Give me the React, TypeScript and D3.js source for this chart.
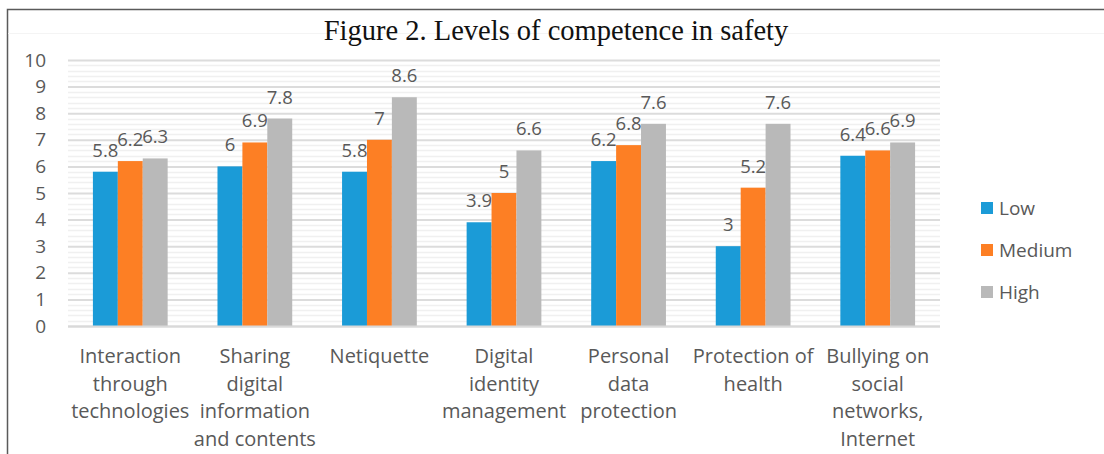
import * as d3 from "d3"
import { useEffect, useRef } from "react"

// chart values
const categories = [
  "Interaction\nthrough\ntechnologies",
  "Sharing\ndigital\ninformation\nand contents",
  "Netiquette",
  "Digital\nidentity\nmanagement",
  "Personal\ndata\nprotection",
  "Protection of\nhealth",
  "Bullying on\nsocial\nnetworks,\nInternet",
]
const seriesNames = ["Low", "Medium", "High"]
const lowValues = [5.8, 6, 5.8, 3.9, 6.2, 3, 6.4]
const mediumValues = [6.2, 6.9, 7, 5, 6.8, 5.2, 6.6]
const highValues = [6.3, 7.8, 8.6, 6.6, 7.6, 7.6, 6.9]
const yTicks = [0, 1, 2, 3, 4, 5, 6, 7, 8, 9, 10]
const title = "Figure 2. Levels of competence in safety"

const colors = ["#1b9bd7", "#fd7f24", "#b9b9b9"]
const textColor = "#595959"
const font = "'Open Sans', sans-serif"

const App = () => {
  const svgRef = useRef<SVGSVGElement | null>(null)

  useEffect(() => {
    if (!svgRef.current) return
    const svg = d3.select(svgRef.current)
    svg.selectAll("*").remove()

    const W = 1104
    const H = 454
    const left = 68
    const right = 940
    const top = 60
    const bottom = 326

    const values = [lowValues, mediumValues, highValues]

    // frame (top and left edges only, the rest is cropped)
    svg
      .append("path")
      .attr("d", `M7.5,${H} L7.5,9.5 L${W},9.5`)
      .attr("fill", "none")
      .attr("stroke", "#5a5a5a")
      .attr("stroke-width", 1.5)

    svg
      .append("line")
      .attr("x1", 8)
      .attr("x2", W)
      .attr("y1", 33.5)
      .attr("y2", 33.5)
      .attr("stroke", "#f4f4f4")

    svg
      .append("text")
      .attr("x", 556)
      .attr("y", 40)
      .attr("text-anchor", "middle")
      .style("font", "28.5px 'Liberation Serif', serif")
      .attr("fill", "#111")
      .text(title)

    const x = d3
      .scaleBand()
      .domain(categories)
      .range([left, right])
      .paddingInner(0.4)
      .paddingOuter(0.2)

    const xs = d3
      .scaleBand()
      .domain(seriesNames)
      .range([0, x.bandwidth()])

    const y = d3.scaleLinear().domain([0, 10]).range([bottom, top])

    // minor gridlines every 0.2
    const minor = d3.range(0, 10.001, 0.2).filter((v) => Math.abs(v - Math.round(v)) > 0.01)
    svg
      .append("g")
      .selectAll("line")
      .data(minor)
      .enter()
      .append("line")
      .attr("x1", left)
      .attr("x2", right)
      .attr("y1", (d) => Math.round(y(d)) + 0.5)
      .attr("y2", (d) => Math.round(y(d)) + 0.5)
      .attr("stroke", "#f0f0f0")
      .attr("stroke-width", 1.5)

    // y axis with major gridlines
    const yAxis = d3
      .axisLeft(y)
      .tickValues(yTicks)
      .tickSize(-(right - left))
      .tickPadding(22)
      .tickFormat((d) => `${d}`)

    const gy = svg
      .append("g")
      .attr("transform", `translate(${left},0)`)
      .call(yAxis)
    gy.select(".domain").remove()
    gy.selectAll(".tick line")
      .attr("stroke", "#dcdcdc")
      .attr("stroke-width", 2)
    gy.selectAll(".tick text")
      .style("font", `19px ${font}`)
      .attr("fill", textColor)

    // bars
    const groups = svg
      .append("g")
      .selectAll("g")
      .data(categories)
      .enter()
      .append("g")
      .attr("transform", (d) => `translate(${x(d)},0)`)

    groups.each(function (_c, i) {
      const g = d3.select(this)
      seriesNames.forEach((s, j) => {
        const v = values[j][i]
        g.append("rect")
          .attr("x", xs(s)!)
          .attr("y", y(v))
          .attr("width", xs.bandwidth())
          .attr("height", y(0) - y(v))
          .attr("fill", colors[j])
        g.append("text")
          .attr("x", xs(s)! + xs.bandwidth() / 2)
          .attr("y", y(v) - 15)
          .attr("text-anchor", "middle")
          .style("font", `18.5px ${font}`)
          .attr("fill", textColor)
          .text(`${v}`)
      })
    })

    // x axis line
    svg
      .append("line")
      .attr("x1", left)
      .attr("x2", right)
      .attr("y1", bottom + 0.5)
      .attr("y2", bottom + 0.5)
      .attr("stroke", "#d9d9d9")
      .attr("stroke-width", 2)

    // category labels
    const labels = svg
      .append("g")
      .selectAll("text")
      .data(categories)
      .enter()
      .append("text")
      .attr("x", (d) => x(d)! + x.bandwidth() / 2)
      .attr("y", 363)
      .attr("text-anchor", "middle")
      .style("font", `20px ${font}`)
      .attr("fill", textColor)
    labels
      .selectAll("tspan")
      .data((d) => d.split("\n"))
      .enter()
      .append("tspan")
      .attr("x", function () {
        return (this.parentNode as SVGTextElement).getAttribute("x")
      })
      .attr("dy", (_d, i) => (i === 0 ? 0 : 27.5))
      .text((d) => d)

    // legend
    const legend = svg
      .append("g")
      .selectAll("g")
      .data(seriesNames)
      .enter()
      .append("g")
      .attr("transform", (_d, i) => `translate(981,${208 + i * 42})`)
    legend
      .append("rect")
      .attr("x", 0)
      .attr("y", -6)
      .attr("width", 12)
      .attr("height", 12)
      .attr("fill", (_d, i) => colors[i])
    legend
      .append("text")
      .attr("x", 18)
      .attr("y", 7)
      .style("font", `19px ${font}`)
      .attr("fill", textColor)
      .text((d) => d)
  }, [])

  return (
    <svg
      ref={svgRef}
      width={1104}
      height={454}
      style={{ position: "absolute", left: 0, top: 0, background: "#fff" }}
    />
  )
}

export default App
